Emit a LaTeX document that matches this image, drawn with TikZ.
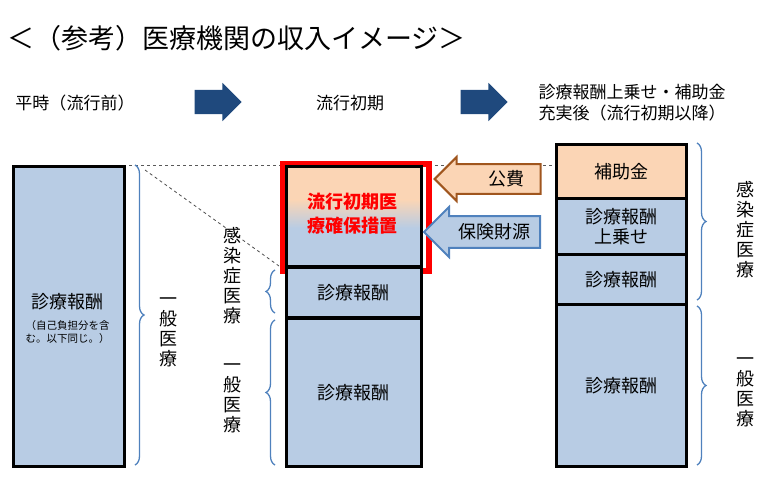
\documentclass[tikz,border=0pt]{standalone}
\usepackage{fontspec}
\setmainfont{Noto Sans CJK JP}
\usetikzlibrary{decorations.pathreplacing,shapes.arrows}
\definecolor{bx}{HTML}{B8CCE4}
\definecolor{or}{HTML}{FBD5B5}
\definecolor{brc}{HTML}{4F81BD}
\definecolor{brn}{HTML}{A0561E}
\definecolor{nav}{HTML}{1F497D}
\begin{document}
\begin{tikzpicture}[x=1pt,y=-1pt,
 box/.style={draw=black,line width=2.5pt,fill=bx},
 brace/.style={draw=brc,line width=1.3pt,decorate,decoration={brace,amplitude=9pt}},
 lbl/.style={font=\fontsize{18}{20}\selectfont,align=center},
 vt/.style={font=\fontsize{18}{20}\selectfont,align=center},
 hdr/.style={font=\fontsize{17}{21}\selectfont,align=center},
 big/.style={single arrow,fill=nav,minimum height=47pt,single arrow head extend=7pt,inner sep=12pt}]
\useasboundingbox (0,0) rectangle (784,492);
\node[anchor=west,font=\fontsize{27}{29}\selectfont] (title) at (4,38) {＜（参考）医療機関の収入イメージ＞};
\node[hdr] (h1) at (75,103) {平時（流行前）};
\node[hdr] (h2) at (350,103) {流行初期};
\node[hdr] (h3) at (632,103) {診療報酬上乗せ・補助金\\充実後（流行初期以降）};
\node[big] (a1) at (212,102) {};
\node[big] (a2) at (478,102) {};
% dashed
\coordinate (d0) at (123,165); \coordinate (d1) at (555,165);
\coordinate (e0) at (145,170); \coordinate (e1) at (279,266);
\draw[dashed,gray!70!black,line width=0.8pt] (d0) -- (d1);
\draw[dashed,black!70,line width=0.8pt] (e0) -- (e1);
% left
\node[box,minimum width=111pt,minimum height=300pt,anchor=north west] (L) at (12,165) {};
\node[lbl] (Lt) at (67.5,302) {診療報酬};
\node[font=\fontsize{10.5}{13}\selectfont,align=center] (Ls) at (67.5,332) {（自己負担分を含\\む。以下同じ。）};
\draw[brace] (135,165) -- (135,465);
\node[vt] (v1) at (168,332) {一\\般\\医\\療};
% middle
\node[draw=red,line width=6pt,minimum width=146pt,minimum height=107pt,anchor=north west] (R) at (280,161) {};
\fill[or] (285,165) rectangle (420,200);
\shade[top color=or,bottom color=bx] (285,199.5) rectangle (420,228);
\fill[bx] (285,227.5) rectangle (420,265);
\node[draw=black,line width=2.5pt,minimum width=135pt,minimum height=100pt,anchor=north west] (M1) at (285,165) {};
\node[lbl,text=red,font=\fontsize{18}{24}\selectfont\bfseries] (M1t) at (352.5,214) {流行初期医\\療確保措置};
\node[box,minimum width=135pt,minimum height=50pt,anchor=north west] (M2) at (285,266) {};
\node[lbl] at (M2) {診療報酬};
\node[box,minimum width=135pt,minimum height=148pt,anchor=north west] (M3) at (285,317) {};
\node[lbl] at (M3) {診療報酬};
\draw[brace] (275,313) -- (275,270);
\draw[brace] (275,465) -- (275,320);
\node[vt] (v2) at (232,276) {感\\染\\症\\医\\療};
\node[vt] (v3) at (232,398) {一\\般\\医\\療};
% side arrows
\node[single arrow,shape border rotate=180,draw=brn,fill=or,line width=2pt,minimum height=106pt,minimum width=44pt,single arrow head extend=6pt,inner sep=3pt,font=\fontsize{18}{20}\selectfont,text width=70pt,align=right] (p1) at (495,179) {公費 \ \ };
\node[single arrow,shape border rotate=180,draw=brc,fill=bx,line width=2pt,minimum height=116pt,minimum width=50pt,single arrow head extend=7pt,inner sep=3pt,font=\fontsize{18}{20}\selectfont,text width=80pt,align=right] (p2) at (490,232) {保険財源};
% right
\node[box,fill=or,minimum width=130pt,minimum height=54pt,anchor=north west] (R1) at (555,143) {};
\node[lbl] at (R1) {補助金};
\node[box,minimum width=130pt,minimum height=56pt,anchor=north west] (R2) at (555,197) {};
\node[lbl] at (R2) {診療報酬\\上乗せ};
\node[box,minimum width=130pt,minimum height=50pt,anchor=north west] (R3) at (555,253) {};
\node[lbl] at (R3) {診療報酬};
\node[box,minimum width=130pt,minimum height=162pt,anchor=north west] (R4) at (555,303) {};
\node[lbl] at (R4) {診療報酬};
\draw[brace] (697,143) -- (697,300);
\draw[brace] (697,306) -- (697,465);
\node[vt] (v4) at (745,230) {感\\染\\症\\医\\療};
\node[vt] (v5) at (745,392) {一\\般\\医\\療};
\end{tikzpicture}
\end{document}
